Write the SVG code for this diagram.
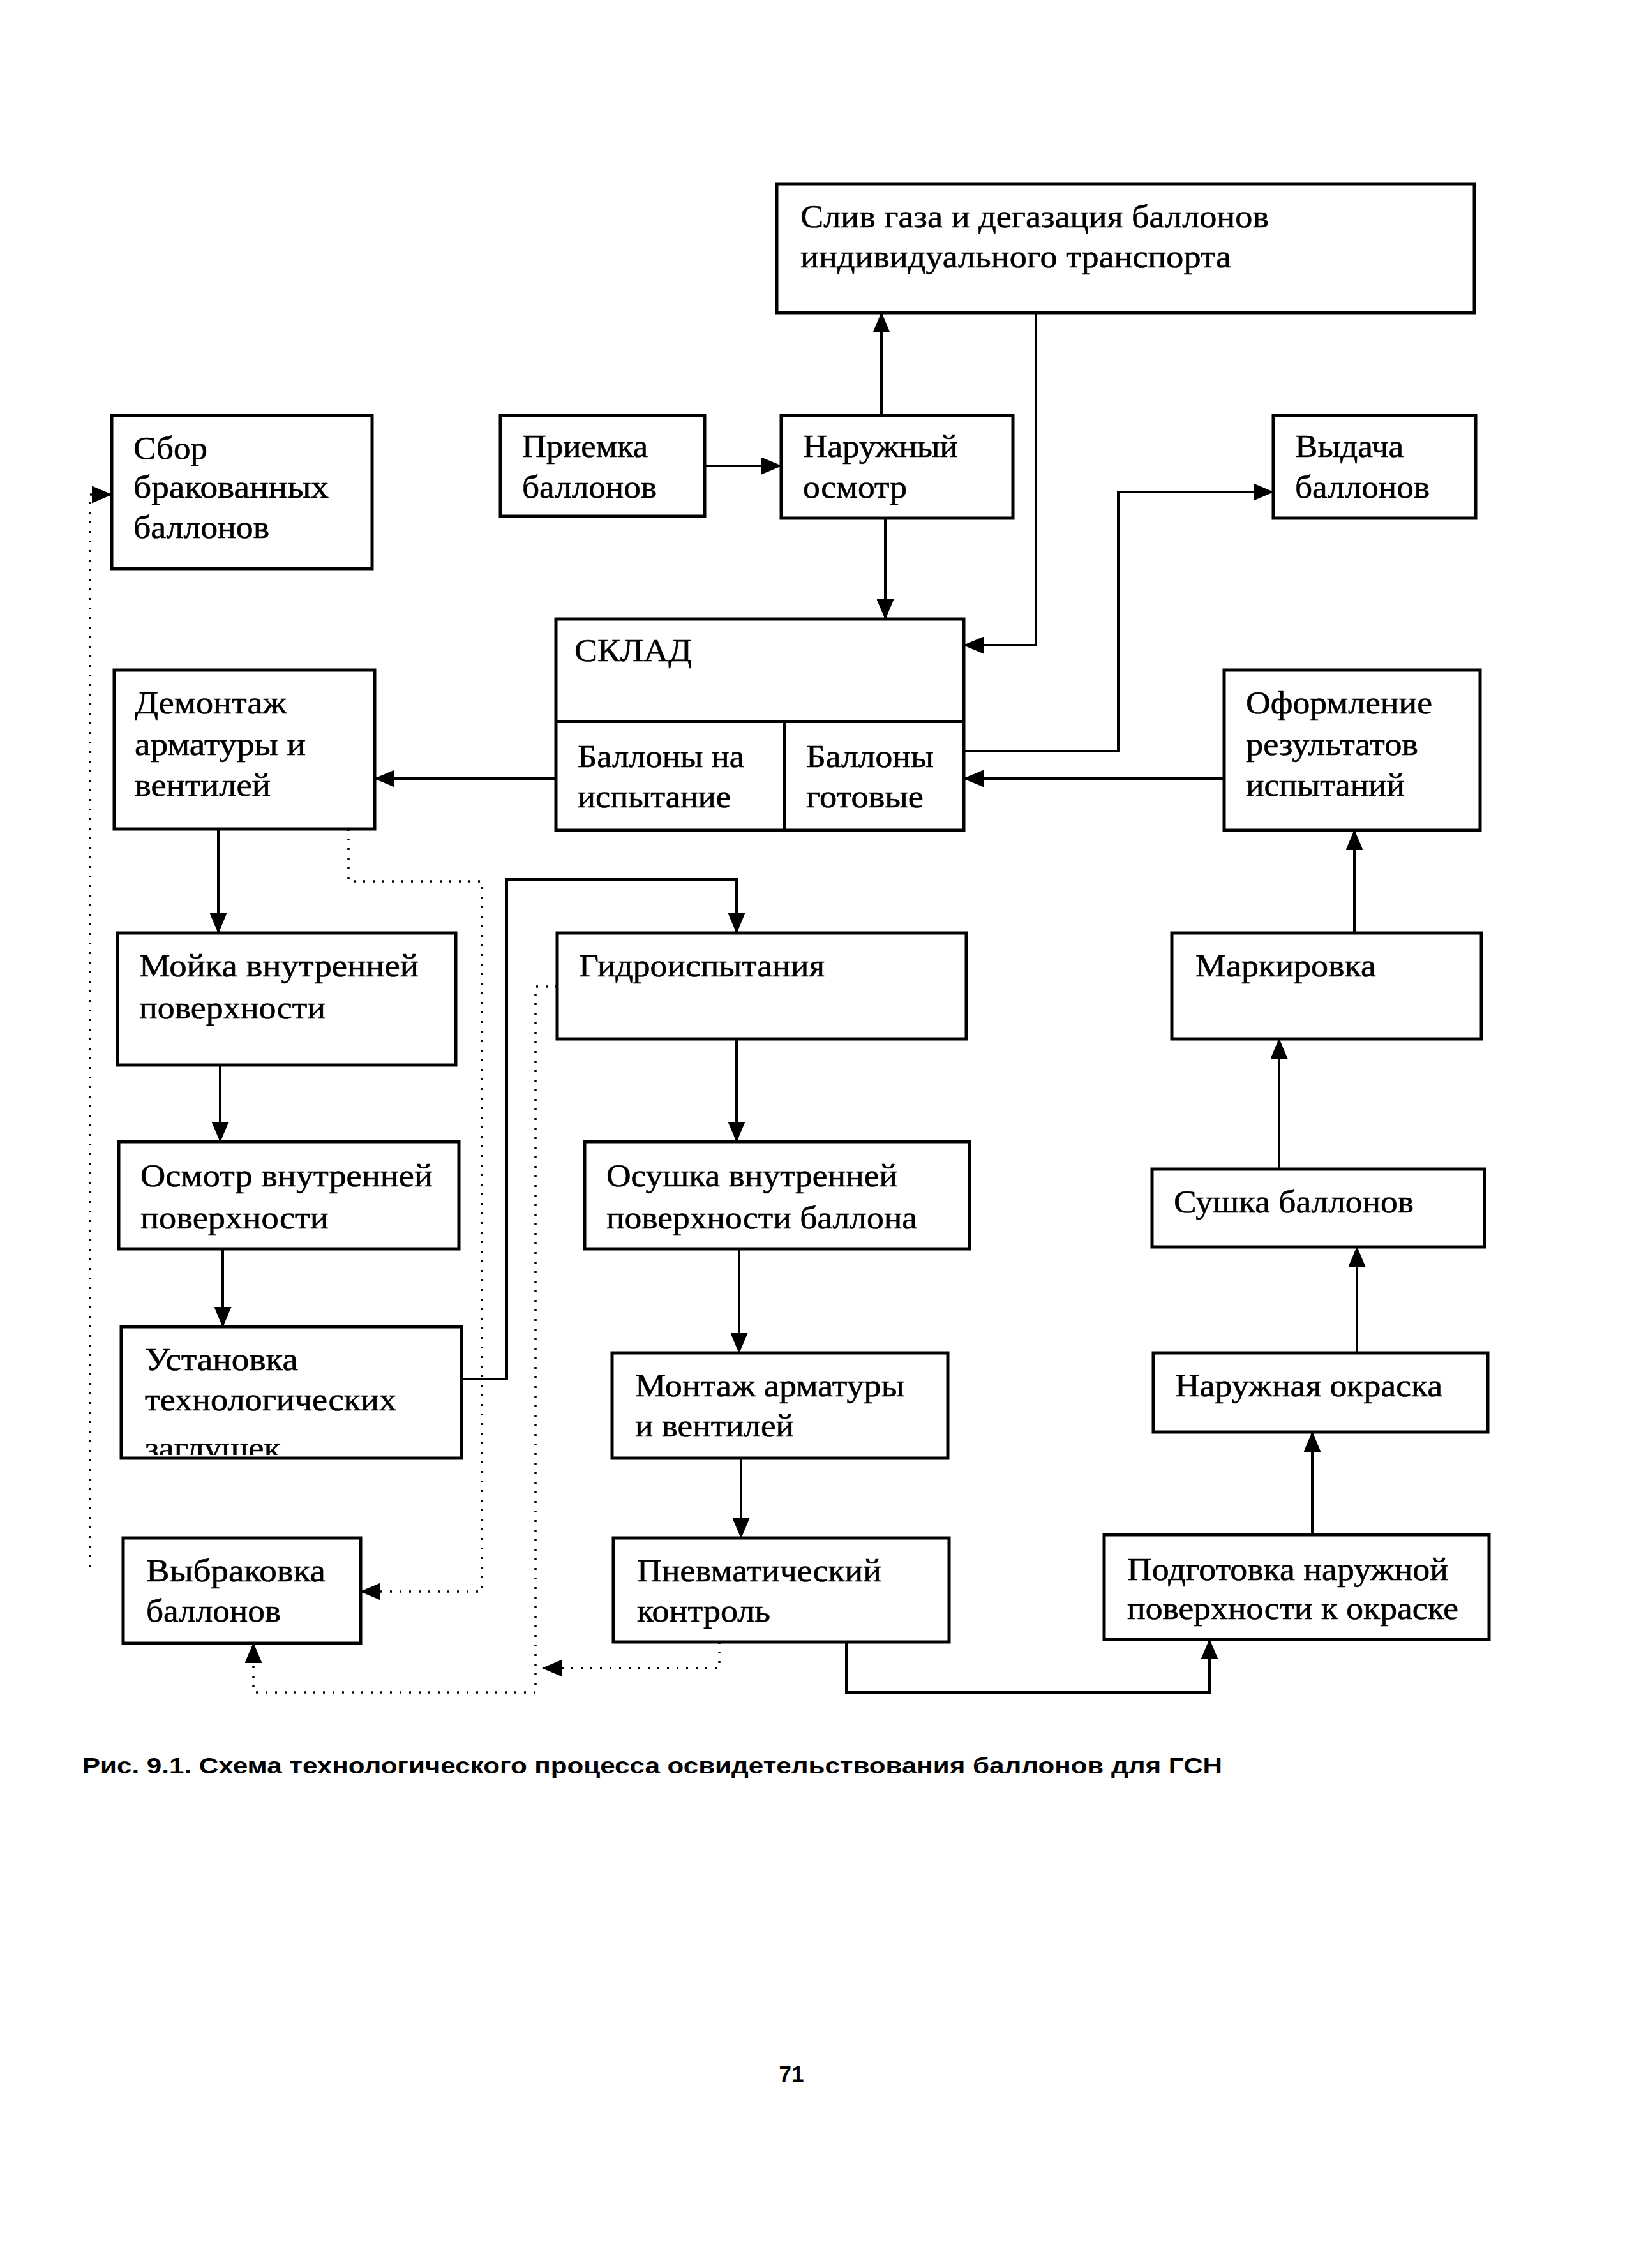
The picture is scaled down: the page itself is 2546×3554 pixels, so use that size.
<svg xmlns="http://www.w3.org/2000/svg" width="2546" height="3554" viewBox="0 0 2546 3554">
<style>
.box{fill:#fff;stroke:#000;stroke-width:5}
.t{font-family:"Liberation Serif","Times New Roman",serif;font-size:50px;fill:#000;stroke:#000;stroke-width:0.6}
.c{fill:none;stroke:#000;stroke-width:4}
.d{fill:none;stroke:#000;stroke-width:3.5;stroke-dasharray:3 12}
.cap{font-family:"Liberation Sans",Arial,sans-serif;font-weight:bold;font-size:35px;fill:#000}
</style>
<defs>
<marker id="ah" viewBox="0 0 32 27" refX="31" refY="13.5" markerWidth="32" markerHeight="27" orient="auto" markerUnits="userSpaceOnUse"><path d="M0,0 L32,13.5 L0,27 z" fill="#000"/></marker>
<clipPath id="clipUst"><rect x="190" y="2079" width="533" height="201"/></clipPath>
</defs>
<rect width="2546" height="3554" fill="#fff"/>

<g id="connectors">
<path class="c" d="M1381,651 V490" marker-end="url(#ah)"/>
<path class="c" d="M1623,490 V1011 H1510" marker-end="url(#ah)"/>
<path class="c" d="M1104,730 H1224" marker-end="url(#ah)"/>
<path class="c" d="M1387,812 V970" marker-end="url(#ah)"/>
<path class="c" d="M1510,1177 H1752 V771 H1995" marker-end="url(#ah)"/>
<path class="c" d="M1918,1220 H1510" marker-end="url(#ah)"/>
<path class="c" d="M871,1220 H587" marker-end="url(#ah)"/>
<path class="c" d="M342,1299 V1462" marker-end="url(#ah)"/>
<path class="c" d="M345,1669 V1789" marker-end="url(#ah)"/>
<path class="c" d="M349,1957 V2079" marker-end="url(#ah)"/>
<path class="c" d="M723,2161 H794 V1378 H1154 V1462" marker-end="url(#ah)"/>
<path class="c" d="M1154,1628 V1789" marker-end="url(#ah)"/>
<path class="c" d="M1158,1957 V2120" marker-end="url(#ah)"/>
<path class="c" d="M1161,2285 V2410" marker-end="url(#ah)"/>
<path class="c" d="M1326,2573 V2652 H1895 V2569" marker-end="url(#ah)"/>
<path class="c" d="M2056,2405 V2244" marker-end="url(#ah)"/>
<path class="c" d="M2126,2120 V1954" marker-end="url(#ah)"/>
<path class="c" d="M2004,1832 V1628" marker-end="url(#ah)"/>
<path class="c" d="M2122,1462 V1301" marker-end="url(#ah)"/>
<path class="d" d="M546,1299 V1381 H755 V2494 H565" marker-end="url(#ah)"/>
<path class="d" d="M873,1546 H839 V2652 H397 V2575" marker-end="url(#ah)"/>
<path class="d" d="M1127,2573 V2614 H850" marker-end="url(#ah)"/>
<path class="d" d="M141,2455 V775 H175" marker-end="url(#ah)"/>
</g>

<g id="n-sliv">
<rect class="box" x="1217" y="288" width="1093" height="202"/>
<text class="t" x="1254" y="356" textLength="734" lengthAdjust="spacingAndGlyphs">Слив газа и дегазация баллонов</text>
<text class="t" x="1254" y="419" textLength="675" lengthAdjust="spacingAndGlyphs">индивидуального транспорта</text>
</g>
<g id="n-sbor">
<rect class="box" x="175" y="651" width="408" height="240"/>
<text class="t" x="209" y="719" textLength="116" lengthAdjust="spacingAndGlyphs">Сбор</text>
<text class="t" x="209" y="780" textLength="306" lengthAdjust="spacingAndGlyphs">бракованных</text>
<text class="t" x="209" y="843" textLength="213" lengthAdjust="spacingAndGlyphs">баллонов</text>
</g>
<g id="n-priemka">
<rect class="box" x="784" y="651" width="320" height="158"/>
<text class="t" x="818" y="716" textLength="197" lengthAdjust="spacingAndGlyphs">Приемка</text>
<text class="t" x="818" y="780" textLength="211" lengthAdjust="spacingAndGlyphs">баллонов</text>
</g>
<g id="n-naruzh">
<rect class="box" x="1224" y="651" width="363" height="161"/>
<text class="t" x="1258" y="716" textLength="243" lengthAdjust="spacingAndGlyphs">Наружный</text>
<text class="t" x="1258" y="780" textLength="163" lengthAdjust="spacingAndGlyphs">осмотр</text>
</g>
<g id="n-vydacha">
<rect class="box" x="1995" y="651" width="317" height="161"/>
<text class="t" x="2029" y="716" textLength="170" lengthAdjust="spacingAndGlyphs">Выдача</text>
<text class="t" x="2029" y="780" textLength="211" lengthAdjust="spacingAndGlyphs">баллонов</text>
</g>
<g id="n-sklad">
<rect class="box" x="871" y="970" width="639" height="331"/>
<line x1="871" y1="1131" x2="1510" y2="1131" stroke="#000" stroke-width="4"/>
<line x1="1229" y1="1131" x2="1229" y2="1301" stroke="#000" stroke-width="4"/>
<text class="t" x="900" y="1036" textLength="184" lengthAdjust="spacingAndGlyphs">СКЛАД</text>
<text class="t" x="905" y="1202" textLength="261" lengthAdjust="spacingAndGlyphs">Баллоны на</text>
<text class="t" x="905" y="1265" textLength="240" lengthAdjust="spacingAndGlyphs">испытание</text>
<text class="t" x="1263" y="1202" textLength="200" lengthAdjust="spacingAndGlyphs">Баллоны</text>
<text class="t" x="1263" y="1265" textLength="184" lengthAdjust="spacingAndGlyphs">готовые</text>
</g>
<g id="n-demontazh">
<rect class="box" x="179" y="1050" width="408" height="249"/>
<text class="t" x="211" y="1118" textLength="238" lengthAdjust="spacingAndGlyphs">Демонтаж</text>
<text class="t" x="211" y="1183" textLength="268" lengthAdjust="spacingAndGlyphs">арматуры и</text>
<text class="t" x="211" y="1247" textLength="213" lengthAdjust="spacingAndGlyphs">вентилей</text>
</g>
<g id="n-oformlenie">
<rect class="box" x="1918" y="1050" width="401" height="251"/>
<text class="t" x="1952" y="1118" textLength="292" lengthAdjust="spacingAndGlyphs">Оформление</text>
<text class="t" x="1952" y="1183" textLength="270" lengthAdjust="spacingAndGlyphs">результатов</text>
<text class="t" x="1952" y="1247" textLength="249" lengthAdjust="spacingAndGlyphs">испытаний</text>
</g>
<g id="n-moika">
<rect class="box" x="184" y="1462" width="530" height="207"/>
<text class="t" x="218" y="1530" textLength="438" lengthAdjust="spacingAndGlyphs">Мойка внутренней</text>
<text class="t" x="218" y="1596" textLength="292" lengthAdjust="spacingAndGlyphs">поверхности</text>
</g>
<g id="n-gidro">
<rect class="box" x="873" y="1462" width="641" height="166"/>
<text class="t" x="907" y="1530" textLength="385" lengthAdjust="spacingAndGlyphs">Гидроиспытания</text>
</g>
<g id="n-markirovka">
<rect class="box" x="1836" y="1462" width="485" height="166"/>
<text class="t" x="1873" y="1530" textLength="283" lengthAdjust="spacingAndGlyphs">Маркировка</text>
</g>
<g id="n-osmotr">
<rect class="box" x="186" y="1789" width="533" height="168"/>
<text class="t" x="220" y="1859" textLength="458" lengthAdjust="spacingAndGlyphs">Осмотр внутренней</text>
<text class="t" x="220" y="1925" textLength="295" lengthAdjust="spacingAndGlyphs">поверхности</text>
</g>
<g id="n-osushka">
<rect class="box" x="916" y="1789" width="603" height="168"/>
<text class="t" x="950" y="1859" textLength="456" lengthAdjust="spacingAndGlyphs">Осушка внутренней</text>
<text class="t" x="950" y="1925" textLength="487" lengthAdjust="spacingAndGlyphs">поверхности баллона</text>
</g>
<g id="n-sushka">
<rect class="box" x="1805" y="1832" width="521" height="122"/>
<text class="t" x="1839" y="1900" textLength="376" lengthAdjust="spacingAndGlyphs">Сушка баллонов</text>
</g>
<g id="n-ustanovka">
<rect class="box" x="190" y="2079" width="533" height="206"/>
<g clip-path="url(#clipUst)">
<text class="t" x="227" y="2147" textLength="240" lengthAdjust="spacingAndGlyphs">Установка</text>
<text class="t" x="227" y="2210" textLength="394" lengthAdjust="spacingAndGlyphs">технологических</text>
<text class="t" x="227" y="2286" textLength="213" lengthAdjust="spacingAndGlyphs">заглушек</text>
</g>
</g>
<g id="n-montazh">
<rect class="box" x="959" y="2120" width="526" height="165"/>
<text class="t" x="995" y="2188" textLength="422" lengthAdjust="spacingAndGlyphs">Монтаж арматуры</text>
<text class="t" x="995" y="2251" textLength="249" lengthAdjust="spacingAndGlyphs">и вентилей</text>
</g>
<g id="n-okraska">
<rect class="box" x="1807" y="2120" width="524" height="124"/>
<text class="t" x="1841" y="2188" textLength="419" lengthAdjust="spacingAndGlyphs">Наружная окраска</text>
</g>
<g id="n-vybrakovka">
<rect class="box" x="193" y="2410" width="372" height="165"/>
<text class="t" x="229" y="2478" textLength="281" lengthAdjust="spacingAndGlyphs">Выбраковка</text>
<text class="t" x="229" y="2541" textLength="211" lengthAdjust="spacingAndGlyphs">баллонов</text>
</g>
<g id="n-pnevmo">
<rect class="box" x="961" y="2410" width="526" height="163"/>
<text class="t" x="998" y="2478" textLength="383" lengthAdjust="spacingAndGlyphs">Пневматический</text>
<text class="t" x="998" y="2541" textLength="209" lengthAdjust="spacingAndGlyphs">контроль</text>
</g>
<g id="n-podgotovka">
<rect class="box" x="1730" y="2405" width="603" height="164"/>
<text class="t" x="1766" y="2476" textLength="503" lengthAdjust="spacingAndGlyphs">Подготовка наружной</text>
<text class="t" x="1766" y="2537" textLength="519" lengthAdjust="spacingAndGlyphs">поверхности к окраске</text>
</g>

<text class="cap" x="129" y="2779" textLength="1786" lengthAdjust="spacingAndGlyphs">Рис. 9.1. Схема технологического процесса освидетельствования баллонов для ГСН</text>
<text class="cap" x="1240" y="3262" text-anchor="middle">71</text>
</svg>
